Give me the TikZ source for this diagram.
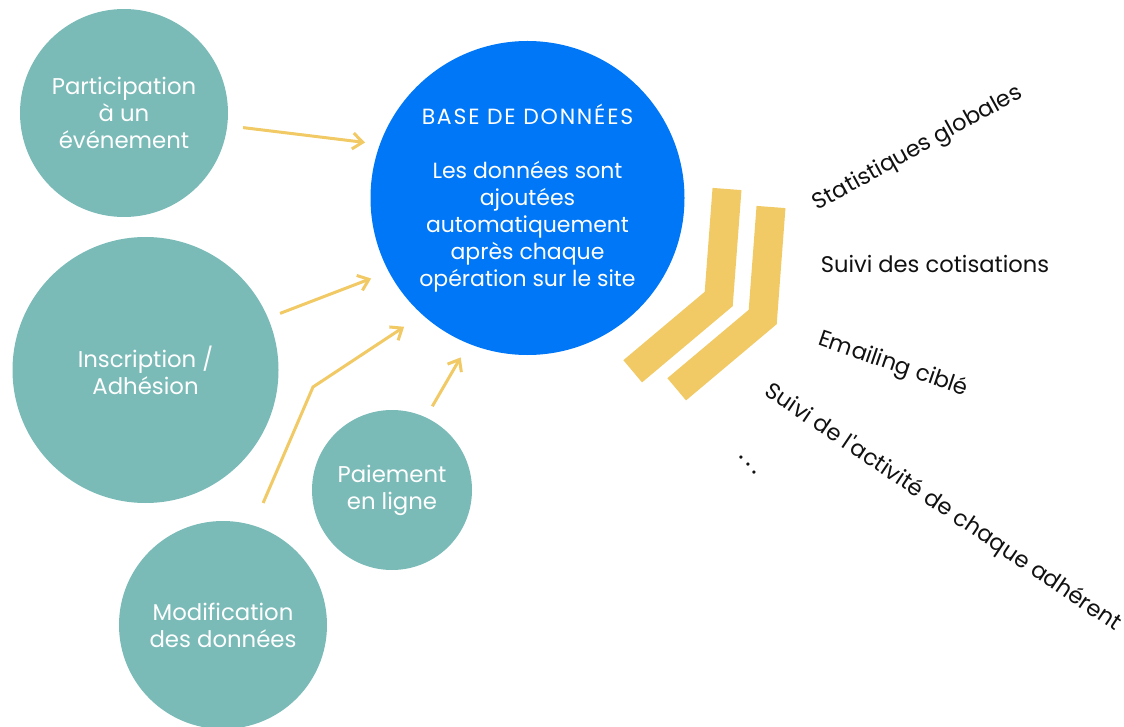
\documentclass[tikz,border=0pt]{standalone}
\usepackage{fontspec}
\setmainfont{Poppins}
\usepackage{xcolor}
\usepackage{tikz}
\usetikzlibrary{shapes.geometric,positioning,arrows.meta,calc}
\definecolor{brandTeal}{HTML}{7ABBB8}
\definecolor{brandBlue}{HTML}{0077F6}
\definecolor{brandGold}{HTML}{F1C965}
\definecolor{brandInk}{HTML}{111111}

\tikzset{
  bubble/.style={circle, fill=brandTeal, text=white, inner sep=0pt, outer sep=0pt,
                 align=center, font=\fontsize{11.4}{13.5}\selectfont},
  flow/.style={draw=brandGold, line width=1.5pt, -{Straight Barb[length=5pt,width=8pt]}},
  chevron/.style={draw=brandGold, line width=14.5pt, line join=miter, line cap=butt},
  topic/.style={text=brandInk, inner sep=0pt, font=\fontsize{11.3}{13}\selectfont}
}

\begin{document}
\begin{tikzpicture}[x=0.5pt, y=-0.5pt]
  \useasboundingbox (0,0) rectangle (1124,727);

  % sources
  \node[bubble, minimum size=104pt] (part) at (124,113) {Participation\\à un\\événement};
  \node[bubble, minimum size=133pt] (insc) at (145.5,370) {Inscription /\\Adhésion};
  \node[bubble, minimum size=80pt] (pay) at (392,490) {Paiement\\en ligne};
  \node[bubble, minimum size=104pt] (modif) at (223,625) {Modification\\des données};

  % central store
  \node[bubble, fill=brandBlue, minimum size=157pt, font=\fontsize{11}{13.5}\selectfont] (base) at (527.5,198)
   {{\addfontfeature{LetterSpace=8}BASE DE DONNÉES}\\[13.5pt]Les données sont\\ajoutées\\automatiquement\\après chaque\\opération sur le site};

  % feeds
  \draw[flow, shorten <=8pt, shorten >=7.5pt] (part.-7.2) -- (base.160.2);
  \draw[flow, shorten <=6.5pt, shorten >=9.5pt] (insc.23.2) -- (base.-152.2);
  \coordinate (bend) at (313,387);
  \draw[flow, shorten <=12.3pt, shorten >=11pt] (modif.73.1) -- (bend) -- (base.-132.6);
  \draw[flow, shorten <=6.5pt, shorten >=8pt] (pay.65.2) -- (base.-112.3);

  % double chevron
  \foreach \dx/\dy in {0/0, 44/18}
    \draw[chevron, shift={(\dx,\dy)}] (727,189) -- (718.7,299) -- (632.7,371.3);

  % uses
  \node[topic, rotate=29] (stats) at (918,149) {Statistiques globales};
  \node[topic] (cotis) at (935,264) {Suivi des cotisations};
  \node[topic, rotate=-19] (mail) at (893,365) {Emailing ciblé};
  \node[topic, rotate=-34] (suivi) at (943,508) {Suivi de l\textquotesingle activité de chaque adhérent};
  \node[topic, rotate=-48, anchor=base, font=\fontsize{13}{13}\selectfont] (etc) at (747,466) {.\,.\,.};
\end{tikzpicture}
\end{document}
